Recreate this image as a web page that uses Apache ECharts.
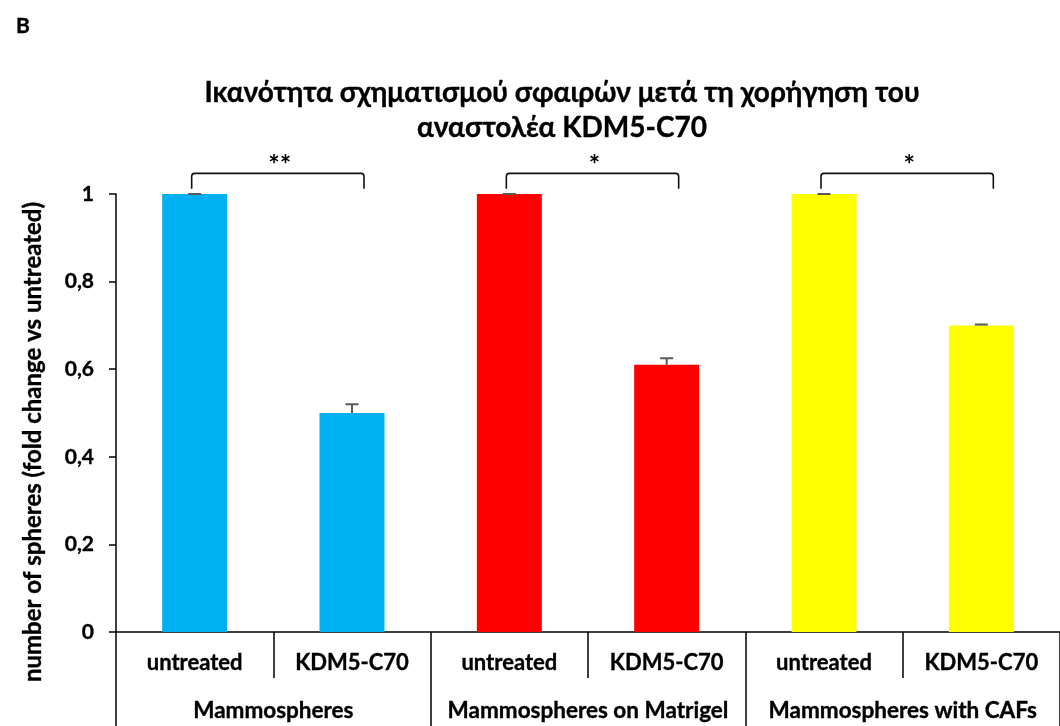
<!DOCTYPE html>
<html>
<head>
<meta charset="utf-8">
<script src="https://cdn.jsdelivr.net/npm/echarts@6/dist/echarts.min.js"></script>
<style>
  html, body { margin: 0; padding: 0; background: #fff; }
  #chart { width: 1060px; height: 726px; }
</style>
</head>
<body>
<div id="chart"></div>
<script>
// Treatment per bar and the culture condition each pair belongs to
const treatments = ['untreated', 'KDM5-C70', 'untreated', 'KDM5-C70', 'untreated', 'KDM5-C70'];
const conditions = ['Mammospheres', 'Mammospheres on Matrigel', 'Mammospheres with CAFs'];

// Fold change vs untreated and its error (upper whisker only)
const foldChange = [1, 0.50, 1, 0.61, 1, 0.70];
const foldError  = [0, 0.02, 0, 0.015, 0, 0.002];

// Colour per condition
const conditionColors = ['#00B0F0', '#FF0000', '#FFFF00'];

// Significance brackets: which two bars, and the stars shown above
const sigPairs = [[0, 1], [2, 3], [4, 5]];
const sigMarks = ['**', '*', '*'];

// Axis ticks
const yTicks = [0, 0.2, 0.4, 0.6, 0.8, 1];

const FONT = 'Lato, "Liberation Sans", sans-serif';
// slight outline so the bold text reads as heavy as a Calibri-style bold
const HEAVY = { textBorderColor: '#000', textBorderWidth: 0.35 };

const chart = echarts.init(document.getElementById('chart'));

const barData = foldChange.map((v, i) => ({
  value: v,
  itemStyle: { color: conditionColors[Math.floor(i / 2)] }
}));
const errData = foldChange.map((v, i) => [i, v, foldError[i]]);
const sigData = sigPairs.map((p, i) => [p[0], p[1], i]);

function renderError(params, api) {
  const x = api.value(0), v = api.value(1), e = api.value(2);
  const base = api.coord([x, v]);
  const top = api.coord([x, v + e]);
  const half = 6.5;
  const style = { stroke: '#5a5a5a', lineWidth: 2 };
  const children = [
    { type: 'line', shape: { x1: top[0] - half, y1: top[1], x2: top[0] + half, y2: top[1] }, style }
  ];
  if (e > 0) {
    children.push({ type: 'line', shape: { x1: base[0], y1: base[1], x2: top[0], y2: top[1] }, style });
  }
  return { type: 'group', children };
}

const BRACKET_TOP = 1.047;
const BRACKET_FOOT = 1.012;
function renderBracket(params, api) {
  const a = api.value(0), b = api.value(1), k = api.value(2);
  const pa = api.coord([a, BRACKET_TOP]);
  const pb = api.coord([b, BRACKET_TOP]);
  const foot = api.coord([a, BRACKET_FOOT])[1];
  const x1 = pa[0] - 3, x2 = pb[0] + 12, y = pa[1];
  const r = 3;
  const path = `M${x1},${foot} L${x1},${y + r} Q${x1},${y} ${x1 + r},${y} ` +
               `L${x2 - r},${y} Q${x2},${y} ${x2},${y + r} L${x2},${foot}`;
  return {
    type: 'group',
    children: [
      { type: 'path', shape: { pathData: path }, style: { stroke: '#111', lineWidth: 1.6, fill: null } },
      { type: 'text', style: { text: sigMarks[k], x: (x1 + x2) / 2 + 2, y: y - 8,
          align: 'center', verticalAlign: 'middle', font: 'bold 27px ' + FONT, fill: '#000' } }
    ]
  };
}

chart.setOption({
  animation: false,
  backgroundColor: '#fff',
  title: [
    {
      text: 'B', left: 11, top: 11,
      textStyle: Object.assign({ fontFamily: FONT, fontWeight: 'bold', fontSize: 21, color: '#000' }, HEAVY)
    },
    {
      text: 'Ικανότητα σχηματισμού σφαιρών μετά τη χορήγηση του\nαναστολέα KDM5-C70',
      left: 557, top: 70, textAlign: 'center',
      textStyle: Object.assign({ fontFamily: FONT, fontWeight: 'bold', fontSize: 28, lineHeight: 35, color: '#000' }, HEAVY)
    }
  ],
  graphic: [{
    type: 'text', x: 33, y: 442, rotation: Math.PI / 2,
    style: Object.assign({
      text: 'number of spheres (fold change vs untreated)',
      align: 'center', verticalAlign: 'middle',
      font: 'bold 24px ' + FONT, fill: '#000'
    }, { stroke: '#000', lineWidth: 0.35 })
  }],
  grid: { left: 116, top: 194, width: 952, height: 438, containLabel: false },
  xAxis: [
    {
      type: 'category', data: treatments, position: 'bottom',
      axisLine: { lineStyle: { color: '#000', width: 1.5 } },
      axisTick: { show: true, length: 46, interval: 0, lineStyle: { color: '#000', width: 1.5 } },
      axisLabel: Object.assign({ interval: 0, margin: 20, color: '#000', fontFamily: FONT, fontWeight: 'bold', fontSize: 22 }, HEAVY)
    },
    {
      type: 'category', data: conditions, position: 'bottom', offset: 46,
      axisLine: { show: false },
      axisTick: { show: true, length: 52, interval: 0, lineStyle: { color: '#000', width: 1.5 } },
      axisLabel: Object.assign({ interval: 0, margin: 21, color: '#000', fontFamily: FONT, fontWeight: 'bold', fontSize: 22.5 }, HEAVY)
    }
  ],
  yAxis: {
    type: 'value', min: yTicks[0], max: yTicks[yTicks.length - 1], interval: 0.2,
    axisLine: { show: true, lineStyle: { color: '#000', width: 1.5 } },
    axisTick: { show: true, length: 7, lineStyle: { color: '#000', width: 1.5 } },
    splitLine: { show: false },
    axisLabel: Object.assign({
      margin: 22, color: '#000', fontFamily: FONT, fontWeight: 'bold', fontSize: 21,
      formatter: v => String(Math.round(v * 10) / 10).replace('.', ',')
    }, HEAVY)
  },
  series: [
    {
      type: 'bar', xAxisIndex: 0, data: barData, barWidth: 65
    },
    {
      type: 'custom', xAxisIndex: 0, data: errData, renderItem: renderError, z: 5, clip: false
    },
    {
      type: 'custom', xAxisIndex: 0, data: sigData, renderItem: renderBracket, z: 5, clip: false,
      encode: { x: [0, 1], y: 2 }
    }
  ]
});
</script>
</body>
</html>
